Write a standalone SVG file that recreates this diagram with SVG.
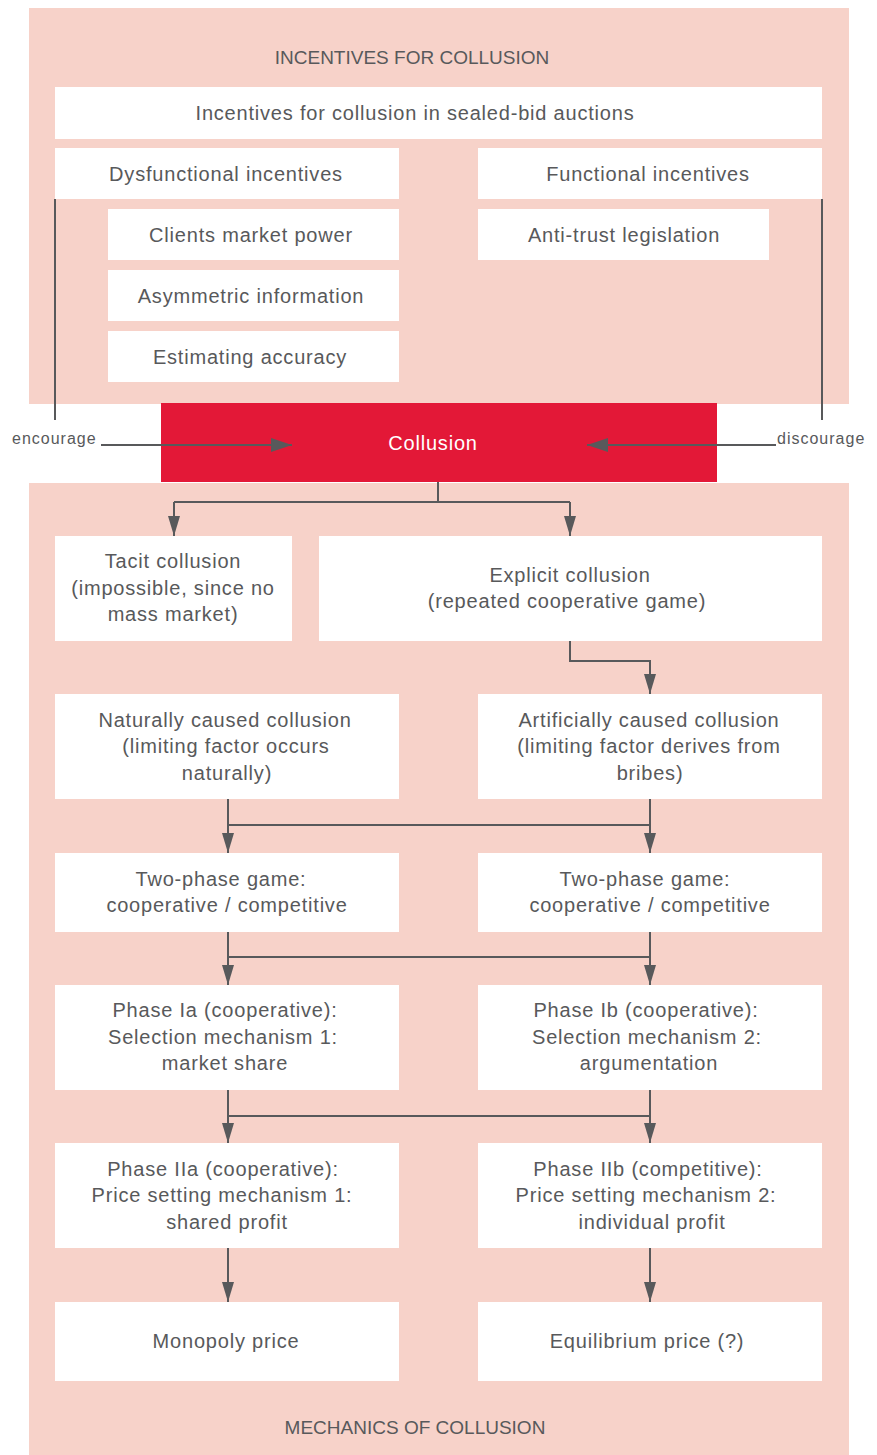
<svg xmlns="http://www.w3.org/2000/svg" width="877" height="1455" viewBox="0 0 877 1455">
<style>
.panel{fill:#f7d2c9}
.box{fill:#ffffff}
.t{font-family:"Liberation Sans",Arial,sans-serif;font-size:20px;fill:#58595b;text-anchor:middle;dominant-baseline:central;letter-spacing:0.8px}
.hd{font-size:19px;letter-spacing:0px}
.lbl{font-family:"Liberation Sans",Arial,sans-serif;font-size:16px;fill:#58595b;dominant-baseline:central;letter-spacing:1px}
.c{fill:none;stroke:#58595b;stroke-width:2}
</style>
<defs>
<marker id="ah" viewBox="0 0 20 12" refX="20" refY="6" markerWidth="20" markerHeight="12" markerUnits="userSpaceOnUse" orient="auto">
<path d="M0,0 L20,6 L0,12 z" fill="#58595b"/>
</marker>
<marker id="ahb" viewBox="0 0 21 14" refX="21" refY="7" markerWidth="21" markerHeight="14" markerUnits="userSpaceOnUse" orient="auto">
<path d="M0,0 L21,7 L0,14 z" fill="#58595b"/>
</marker>
</defs>
<g id="panels">
<rect class="panel" x="29" y="8" width="820" height="396"/>
<rect class="panel" x="29" y="483" width="820" height="972"/>
<text class="t hd" x="412" y="57">INCENTIVES FOR COLLUSION</text>
<text class="t hd" x="415" y="1427">MECHANICS OF COLLUSION</text>
</g>
<g id="n-sealed"><rect class="box" x="55" y="87" width="767" height="52"/><text class="t" x="415" y="113">Incentives for collusion in sealed-bid auctions</text></g>
<g id="n-dysfunctional"><rect class="box" x="55" y="148" width="344" height="51"/><text class="t" x="226" y="174">Dysfunctional incentives</text></g>
<g id="n-functional"><rect class="box" x="478" y="148" width="344" height="51"/><text class="t" x="648" y="174">Functional incentives</text></g>
<g id="n-clients"><rect class="box" x="108" y="209" width="291" height="51"/><text class="t" x="251" y="235">Clients market power</text></g>
<g id="n-asym"><rect class="box" x="108" y="270" width="291" height="51"/><text class="t" x="251" y="296">Asymmetric information</text></g>
<g id="n-estim"><rect class="box" x="108" y="331" width="291" height="51"/><text class="t" x="250" y="357">Estimating accuracy</text></g>
<g id="n-antitrust"><rect class="box" x="478" y="209" width="291" height="51"/><text class="t" x="624" y="235">Anti-trust legislation</text></g>
<g id="n-collusion"><rect x="161" y="403" width="556" height="79" fill="#e31837"/><text class="t" x="433" y="443" style="fill:#ffffff">Collusion</text></g>
<g id="n-tacit"><rect class="box" x="55" y="536" width="237" height="105"/><text class="t"><tspan x="173" y="561">Tacit collusion</tspan><tspan x="173" y="588">(impossible, since no</tspan><tspan x="173" y="614">mass market)</tspan></text></g>
<g id="n-explicit"><rect class="box" x="319" y="536" width="503" height="105"/><text class="t"><tspan x="570" y="575">Explicit collusion</tspan><tspan x="567" y="601">(repeated cooperative game)</tspan></text></g>
<g id="n-natural"><rect class="box" x="55" y="694" width="344" height="105"/><text class="t"><tspan x="225" y="720">Naturally caused collusion</tspan><tspan x="226" y="746">(limiting factor occurs</tspan><tspan x="227" y="773">naturally)</tspan></text></g>
<g id="n-artificial"><rect class="box" x="478" y="694" width="344" height="105"/><text class="t"><tspan x="649" y="720">Artificially caused collusion</tspan><tspan x="649" y="746">(limiting factor derives from</tspan><tspan x="650" y="773">bribes)</tspan></text></g>
<g id="n-twophase1"><rect class="box" x="55" y="853" width="344" height="79"/><text class="t"><tspan x="221" y="879">Two-phase game:</tspan><tspan x="227" y="905">cooperative / competitive</tspan></text></g>
<g id="n-twophase2"><rect class="box" x="478" y="853" width="344" height="79"/><text class="t"><tspan x="645" y="879">Two-phase game:</tspan><tspan x="650" y="905">cooperative / competitive</tspan></text></g>
<g id="n-phaseIa"><rect class="box" x="55" y="985" width="344" height="105"/><text class="t"><tspan x="225" y="1010">Phase Ia (cooperative):</tspan><tspan x="223" y="1037">Selection mechanism 1:</tspan><tspan x="225" y="1063">market share</tspan></text></g>
<g id="n-phaseIb"><rect class="box" x="478" y="985" width="344" height="105"/><text class="t"><tspan x="646" y="1010">Phase Ib (cooperative):</tspan><tspan x="647" y="1037">Selection mechanism 2:</tspan><tspan x="649" y="1063">argumentation</tspan></text></g>
<g id="n-phaseIIa"><rect class="box" x="55" y="1143" width="344" height="105"/><text class="t"><tspan x="223" y="1169">Phase IIa (cooperative):</tspan><tspan x="222" y="1195">Price setting mechanism 1:</tspan><tspan x="227" y="1222">shared profit</tspan></text></g>
<g id="n-phaseIIb"><rect class="box" x="478" y="1143" width="344" height="105"/><text class="t"><tspan x="648" y="1169">Phase IIb (competitive):</tspan><tspan x="646" y="1195">Price setting mechanism 2:</tspan><tspan x="652" y="1222">individual profit</tspan></text></g>
<g id="n-monopoly"><rect class="box" x="55" y="1302" width="344" height="79"/><text class="t" x="226" y="1341">Monopoly price</text></g>
<g id="n-equilibrium"><rect class="box" x="478" y="1302" width="344" height="79"/><text class="t" x="647" y="1341">Equilibrium price (?)</text></g>
<g id="connectors">
<path class="c" d="M55,199 V420"/>
<path class="c" d="M822,199 V420"/>
<text class="lbl" x="12" y="438">encourage</text>
<text class="lbl" x="777" y="438">discourage</text>
<path class="c" d="M101,445 H292" marker-end="url(#ahb)"/>
<path class="c" d="M776,445 H587" marker-end="url(#ahb)"/>
<path class="c" d="M438,482 V502"/>
<path class="c" d="M174,502 H570"/>
<path class="c" d="M174,502 V536" marker-end="url(#ah)"/>
<path class="c" d="M570,502 V536" marker-end="url(#ah)"/>
<path class="c" d="M570,641 V661 H650 V694" marker-end="url(#ah)"/>
<path class="c" d="M228,799 V853" marker-end="url(#ah)"/>
<path class="c" d="M650,799 V853" marker-end="url(#ah)"/>
<path class="c" d="M228,825 H650"/>
<path class="c" d="M228,932 V985" marker-end="url(#ah)"/>
<path class="c" d="M650,932 V985" marker-end="url(#ah)"/>
<path class="c" d="M228,957 H650"/>
<path class="c" d="M228,1090 V1143" marker-end="url(#ah)"/>
<path class="c" d="M650,1090 V1143" marker-end="url(#ah)"/>
<path class="c" d="M228,1116 H650"/>
<path class="c" d="M228,1248 V1302" marker-end="url(#ah)"/>
<path class="c" d="M650,1248 V1302" marker-end="url(#ah)"/>
</g>
</svg>
